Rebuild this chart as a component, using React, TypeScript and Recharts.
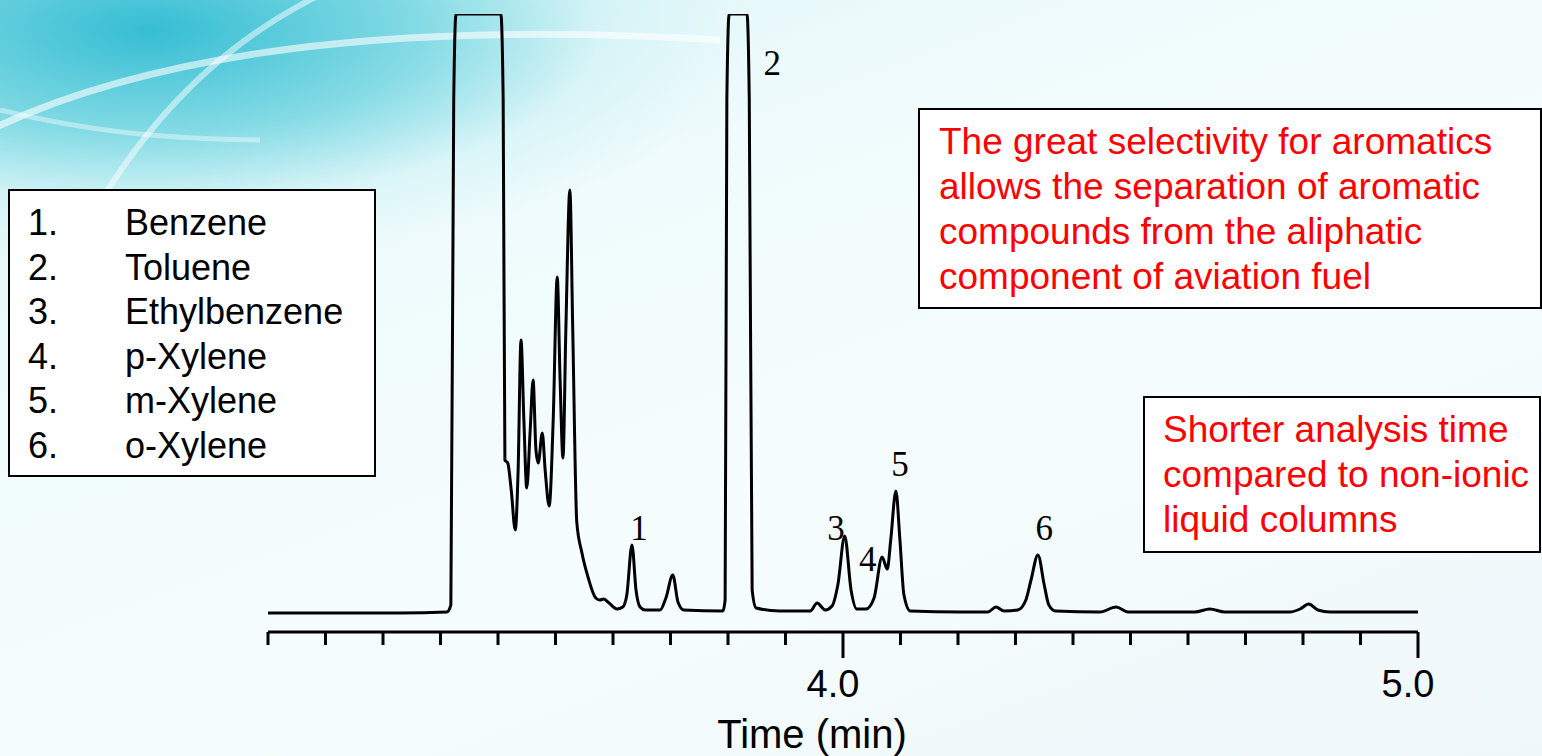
import { ComposedChart, Line, XAxis, YAxis, ReferenceDot } from "recharts";

// retention time (min) and detector response
const retentionTime = [
  3.0, 3.23, 3.311, 3.318, 3.323, 3.327, 3.369, 3.405, 3.409, 3.412,
  3.417, 3.423, 3.43, 3.435, 3.44, 3.445, 3.45, 3.456, 3.461, 3.466,
  3.47, 3.477, 3.482, 3.489, 3.496, 3.503, 3.508, 3.513, 3.518, 3.525,
  3.53, 3.537, 3.546, 3.557, 3.57, 3.577, 3.584, 3.593, 3.607, 3.617,
  3.624, 3.633, 3.64, 3.647, 3.656, 3.682, 3.692, 3.704, 3.713, 3.723,
  3.791, 3.795, 3.798, 3.802, 3.833, 3.837, 3.842, 3.849, 3.89, 3.943,
  3.955, 3.969, 3.981, 3.991, 4.003, 4.014, 4.024, 4.04, 4.054, 4.068,
  4.077, 4.083, 4.092, 4.099, 4.106, 4.117, 4.203, 4.252, 4.266, 4.28,
  4.304, 4.318, 4.327, 4.339, 4.35, 4.358, 4.37, 4.447, 4.475, 4.496,
  4.612, 4.638, 4.664, 4.777, 4.795, 4.81, 4.826, 4.847, 5.0,
];
const detectorResponse = [
  0, 0, 1, 8, 513, 599, 599, 599, 513, 153,
  150, 123, 83, 143, 273, 193, 125, 183, 233, 163,
  150, 180, 143, 107, 193, 336, 233, 155, 283, 423,
  283, 91, 60, 35, 15, 13, 14, 10, 4, 6,
  18, 68, 23, 6, 3, 3, 15, 38, 11, 3,
  2, 13, 513, 599, 599, 513, 23, 5, 2, 2,
  10, 3, 7, 28, 77, 23, 4, 4, 15, 56,
  44, 73, 122, 73, 18, 2, 1, 1, 6, 2,
  3, 13, 33, 58, 28, 8, 2, 1, 6, 1,
  1, 4, 1, 1, 4, 9, 3, 1, 1,
];

const timeTicks = [
  3.0, 3.1, 3.2, 3.3, 3.4, 3.5, 3.6, 3.7, 3.8, 3.9, 4.0,
  4.1, 4.2, 4.3, 4.4, 4.5, 4.6, 4.7, 4.8, 4.9, 5.0,
];
const labeledTicks = [4.0, 5.0];

const peakIds = ["1", "2", "3", "4", "5", "6"];
const peakLabelTime = [3.645, 3.877, 3.988, 4.043, 4.099, 4.35];
const peakLabelHeight = [73, 538, 73, 42, 137, 73];

const compoundNames = ["Benzene", "Toluene", "Ethylbenzene", "p-Xylene", "m-Xylene", "o-Xylene"];

const noteLines = [
  "The great selectivity for aromatics",
  "allows the separation of aromatic",
  "compounds from the aliphatic",
  "component of aviation fuel",
];
const timeNoteLines = ["Shorter analysis time", "compared to non-ionic", "liquid columns"];

const SANS = '"Liberation Sans", Arial, sans-serif';
const SERIF = '"Liberation Serif", "Times New Roman", serif';

const trace = retentionTime.map((t, i) => ({ t, v: detectorResponse[i] }));

function TimeTick(props: any) {
  const { x, y, payload } = props;
  const val = Number(Number(payload.value).toFixed(1));
  const major = labeledTicks.includes(val);
  return (
    <g>
      <line x1={x} y1={y} x2={x} y2={y + (major ? 26 : 13)} stroke="#000" strokeWidth={3} />
      {major && (
        <text x={x - 10} y={y + 65} textAnchor="middle" fontSize={38} fontFamily={SANS} fill="#000">
          {val.toFixed(1)}
        </text>
      )}
    </g>
  );
}

function AxisTitle(props: any) {
  const vb = props.viewBox || { x: 0, y: 0, width: 0 };
  return (
    <text x={vb.x + vb.width / 2 - 31} y={vb.y + 116} textAnchor="middle" fontSize={40} fontFamily={SANS} fill="#000">
      Time (min)
    </text>
  );
}

const peakTag = (id: string) => (p: any) => (
  <text x={p.cx} y={p.cy} textAnchor="middle" fontSize={35} fontFamily={SERIF} fill="#000">
    {id}
  </text>
);

const boxText: React.CSSProperties = {
  position: "absolute",
  background: "#fff",
  border: "2px solid #000",
  boxSizing: "border-box",
  fontFamily: SANS,
};

export default function App() {
  return (
    <div
      style={{
        position: "absolute",
        left: 0,
        top: 0,
        width: 1542,
        height: 756,
        overflow: "hidden",
        background:
          "radial-gradient(ellipse 600px 230px at 150px 30px, rgba(25,180,205,0.85) 0%, rgba(70,200,215,0.6) 45%, rgba(170,232,238,0.25) 75%, rgba(255,255,255,0) 100%), linear-gradient(160deg, #d4f3f6 0%, #effbfc 30%, #f6fdfd 60%, #eef7fa 100%)",
      }}
    >
      <svg width={1542} height={756} style={{ position: "absolute", left: 0, top: 0 }}>
        <path d="M -30 140 Q 220 10 720 40" stroke="#fff" strokeOpacity={0.6} strokeWidth={7} fill="none" />
        <path d="M 90 220 Q 180 60 330 -10" stroke="#fff" strokeOpacity={0.5} strokeWidth={6} fill="none" />
        <path d="M 0 110 Q 120 140 260 140" stroke="#fff" strokeOpacity={0.4} strokeWidth={5} fill="none" />
      </svg>

      <div style={{ position: "absolute", left: 0, top: 0 }}>
        <ComposedChart width={1542} height={756} data={trace} margin={{ top: 14, right: 124, bottom: 0, left: 268 }}>
          <XAxis
            dataKey="t"
            type="number"
            domain={[3.0, 5.0]}
            ticks={timeTicks}
            interval={0}
            allowDataOverflow
            height={124}
            tickSize={0}
            tickMargin={0}
            tickLine={false}
            axisLine={{ stroke: "#000", strokeWidth: 3 }}
            tick={<TimeTick />}
            label={<AxisTitle />}
          />
          <YAxis hide type="number" dataKey="v" domain={[-19, 599]} allowDataOverflow />
          <Line
            type="monotone"
            dataKey="v"
            stroke="#000"
            strokeWidth={3}
            dot={false}
            activeDot={false}
            isAnimationActive={false}
          />
          {peakIds.map((id, i) => (
            <ReferenceDot
              key={id}
              x={peakLabelTime[i]}
              y={peakLabelHeight[i]}
              r={0}
              shape={peakTag(id)}
            />
          ))}
        </ComposedChart>
      </div>

      <div style={{ ...boxText, left: 8, top: 189, width: 368, height: 288, padding: "10px 0 0 18px" }}>
        {compoundNames.map((name, i) => (
          <div key={name} style={{ display: "flex", fontSize: 36, lineHeight: "44.6px", color: "#000" }}>
            <span style={{ width: 97 }}>{i + 1}.</span>
            <span>{name}</span>
          </div>
        ))}
      </div>

      <div style={{ ...boxText, left: 918, top: 108, width: 624, height: 201, padding: "9px 0 0 19px" }}>
        {noteLines.map((line) => (
          <div key={line} style={{ fontSize: 37, lineHeight: "45px", color: "#ff0000", whiteSpace: "nowrap" }}>
            {line}
          </div>
        ))}
      </div>

      <div style={{ ...boxText, left: 1143, top: 396, width: 398, height: 157, padding: "9px 0 0 18px" }}>
        {timeNoteLines.map((line) => (
          <div key={line} style={{ fontSize: 37, lineHeight: "45px", color: "#ff0000", whiteSpace: "nowrap" }}>
            {line}
          </div>
        ))}
      </div>
    </div>
  );
}
